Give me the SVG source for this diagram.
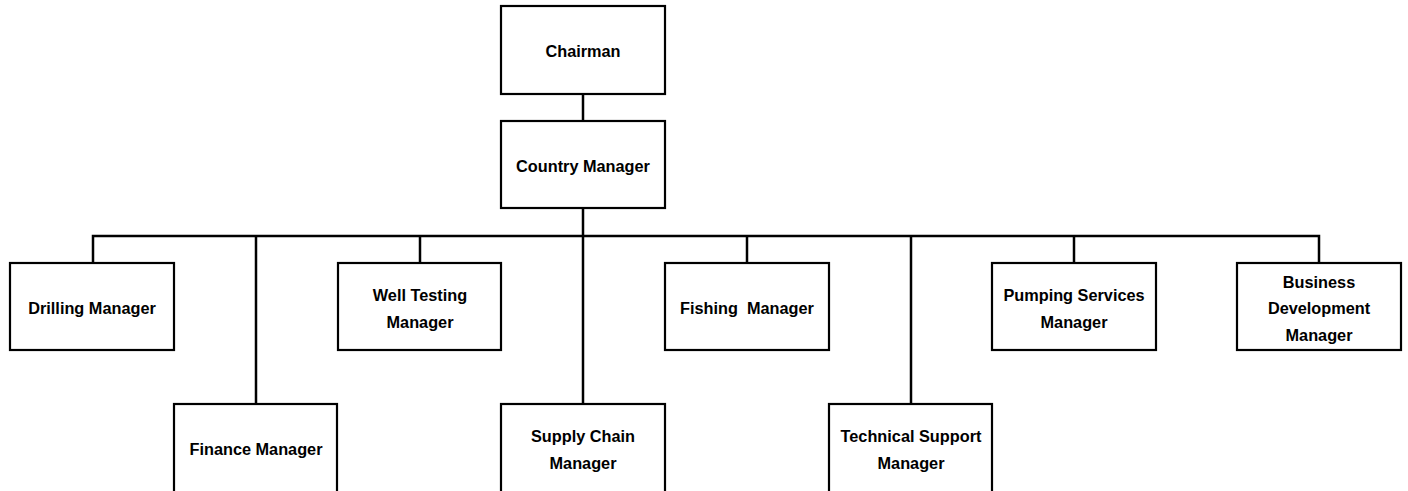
<svg xmlns="http://www.w3.org/2000/svg" width="1408" height="491" viewBox="0 0 1408 491">
<style>
.box{fill:#fff;stroke:#000;stroke-width:2.2}
.t{font-family:"Liberation Sans",Arial,sans-serif;font-weight:bold;font-size:16.3px;fill:#000;text-anchor:middle}
.c{stroke:#000;stroke-width:2.5;fill:none}
</style>
<rect width="1408" height="491" fill="#fff"/>
<g id="connectors">
<line class="c" x1="583" y1="94" x2="583" y2="121"/>
<line class="c" x1="583" y1="208" x2="583" y2="404"/>
<polyline class="c" points="93,263 93,236 1319,236 1319,263"/>
<line class="c" x1="256" y1="236" x2="256" y2="404"/>
<line class="c" x1="420" y1="236" x2="420" y2="263"/>
<line class="c" x1="747" y1="236" x2="747" y2="263"/>
<line class="c" x1="911" y1="236" x2="911" y2="404"/>
<line class="c" x1="1074" y1="236" x2="1074" y2="263"/>
</g>
<g id="chairman"><rect class="box" x="501" y="6" width="164" height="88"/><text class="t" x="583" y="57">Chairman</text></g>
<g id="country-manager"><rect class="box" x="501" y="121" width="164" height="87"/><text class="t" x="583" y="172">Country Manager</text></g>
<g id="drilling-manager"><rect class="box" x="10" y="263" width="164" height="87"/><text class="t" x="92" y="314">Drilling Manager</text></g>
<g id="well-testing-manager"><rect class="box" x="338" y="263" width="163" height="87"/><text class="t" x="420" y="301">Well Testing</text><text class="t" x="420" y="328">Manager</text></g>
<g id="fishing-manager"><rect class="box" x="665" y="263" width="164" height="87"/><text class="t" x="747" y="314" xml:space="preserve">Fishing  Manager</text></g>
<g id="pumping-services-manager"><rect class="box" x="992" y="263" width="164" height="87"/><text class="t" x="1074" y="301">Pumping Services</text><text class="t" x="1074" y="328">Manager</text></g>
<g id="business-development-manager"><rect class="box" x="1237" y="263" width="164" height="87"/><text class="t" x="1319" y="288">Business</text><text class="t" x="1319" y="314">Development</text><text class="t" x="1319" y="341">Manager</text></g>
<g id="finance-manager"><rect class="box" x="174" y="404" width="163" height="90"/><text class="t" x="256" y="455">Finance Manager</text></g>
<g id="supply-chain-manager"><rect class="box" x="501" y="404" width="164" height="90"/><text class="t" x="583" y="442">Supply Chain</text><text class="t" x="583" y="469">Manager</text></g>
<g id="technical-support-manager"><rect class="box" x="829" y="404" width="163" height="90"/><text class="t" x="911" y="442">Technical Support</text><text class="t" x="911" y="469">Manager</text></g>
</svg>
